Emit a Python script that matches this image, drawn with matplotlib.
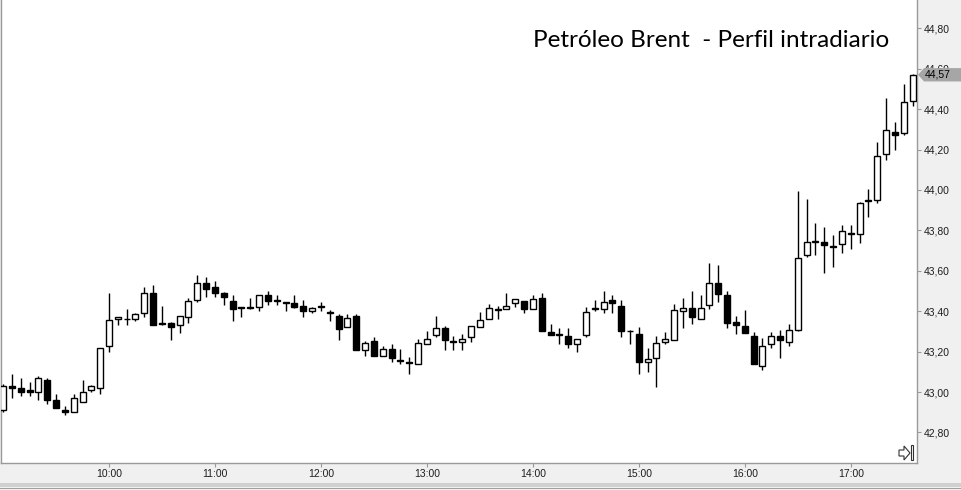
import matplotlib
matplotlib.use("Agg")
import matplotlib.pyplot as plt
import matplotlib.transforms as mtransforms
from matplotlib.patches import Rectangle, Polygon
import numpy as np
import pandas as pd

# 5-minute candles, Brent intraday
start_time = "09:00"
n_candles = 104
opens = [42.91, 43.03, 43.02, 43.01, 43.00, 43.06, 42.96, 42.91, 42.90, 42.95,
         43.01, 43.02, 43.23, 43.36, 43.36, 43.36, 43.39, 43.49, 43.34, 43.34,
         43.33, 43.37, 43.455, 43.54, 43.52, 43.49, 43.45, 43.42, 43.415, 43.42,
         43.48, 43.45, 43.44, 43.44, 43.425, 43.40, 43.425, 43.39, 43.375, 43.32,
         43.375, 43.21, 43.255, 43.18, 43.215, 43.16, 43.15, 43.14, 43.24, 43.28,
         43.315, 43.255, 43.25, 43.27, 43.32, 43.36, 43.405, 43.41, 43.44, 43.45,
         43.41, 43.465, 43.295, 43.285, 43.275, 43.24, 43.28, 43.41, 43.41, 43.455,
         43.425, 43.30, 43.285, 43.15, 43.17, 43.25, 43.26, 43.40, 43.415, 43.36,
         43.43, 43.54, 43.48, 43.345, 43.325, 43.277, 43.13, 43.24, 43.277, 43.25,
         43.305, 43.68, 43.745, 43.745, 43.725, 43.733, 43.785, 43.782, 43.945, 43.95,
         44.18, 44.286, 44.28, 44.44]
highs = [43.04, 43.09, 43.07, 43.05, 43.08, 43.07, 42.99, 42.93, 42.99, 43.06,
         43.035, 43.22, 43.49, 43.37, 43.41, 43.39, 43.52, 43.53, 43.425, 43.345,
         43.375, 43.465, 43.58, 43.57, 43.55, 43.495, 43.48, 43.42, 43.465, 43.48,
         43.50, 43.48, 43.445, 43.48, 43.455, 43.42, 43.444, 43.405, 43.385, 43.385,
         43.385, 43.255, 43.27, 43.227, 43.24, 43.215, 43.175, 43.265, 43.30, 43.375,
         43.327, 43.277, 43.287, 43.327, 43.395, 43.435, 43.426, 43.49, 43.46, 43.45,
         43.48, 43.49, 43.335, 43.315, 43.315, 43.265, 43.42, 43.455, 43.50, 43.48,
         43.455, 43.307, 43.32, 43.216, 43.277, 43.297, 43.435, 43.467, 43.50, 43.48,
         43.64, 43.63, 43.50, 43.376, 43.405, 43.297, 43.267, 43.297, 43.307, 43.337,
         43.995, 43.955, 43.837, 43.817, 43.777, 43.827, 43.827, 43.942, 44.005, 44.238,
         44.455, 44.337, 44.525, 44.574]
lows = [42.90, 42.97, 42.98, 42.98, 42.96, 42.94, 42.92, 42.885, 42.90, 42.95,
        43.00, 42.99, 43.20, 43.33, 43.33, 43.35, 43.37, 43.33, 43.33, 43.26,
        43.29, 43.34, 43.445, 43.47, 43.47, 43.43, 43.35, 43.37, 43.41, 43.40,
        43.43, 43.43, 43.40, 43.415, 43.37, 43.39, 43.40, 43.35, 43.26, 43.32,
        43.21, 43.18, 43.18, 43.18, 43.15, 43.14, 43.09, 43.14, 43.24, 43.27,
        43.21, 43.21, 43.21, 43.25, 43.32, 43.36, 43.36, 43.41, 43.42, 43.39,
        43.41, 43.30, 43.28, 43.24, 43.22, 43.20, 43.27, 43.40, 43.39, 43.39,
        43.27, 43.24, 43.09, 43.10, 43.025, 43.24, 43.26, 43.318, 43.338, 43.36,
        43.41, 43.447, 43.318, 43.287, 43.29, 43.14, 43.11, 43.22, 43.17, 43.23,
        43.30, 43.67, 43.68, 43.59, 43.62, 43.69, 43.71, 43.74, 43.868, 43.937,
        44.15, 44.20, 44.27, 44.417]
closes = [43.03, 43.02, 43.00, 43.00, 43.07, 42.96, 42.92, 42.90, 42.97, 43.00,
          43.03, 43.22, 43.355, 43.37, 43.36, 43.385, 43.49, 43.33, 43.335, 43.32,
          43.375, 43.45, 43.54, 43.51, 43.49, 43.47, 43.41, 43.415, 43.42, 43.48,
          43.45, 43.45, 43.44, 43.42, 43.40, 43.415, 43.42, 43.39, 43.31, 43.365,
          43.21, 43.245, 43.18, 43.215, 43.17, 43.155, 43.145, 43.245, 43.265, 43.315,
          43.26, 43.25, 43.265, 43.327, 43.355, 43.415, 43.405, 43.425, 43.46, 43.41,
          43.46, 43.30, 43.28, 43.28, 43.24, 43.265, 43.395, 43.41, 43.445, 43.44,
          43.30, 43.30, 43.15, 43.165, 43.245, 43.265, 43.405, 43.415, 43.37, 43.415,
          43.54, 43.485, 43.34, 43.33, 43.29, 43.14, 43.227, 43.277, 43.26, 43.305,
          43.665, 43.745, 43.745, 43.73, 43.72, 43.795, 43.78, 43.934, 43.95, 44.167,
          44.296, 44.27, 44.434, 44.57]
yticks = [42.8, 43.0, 43.2, 43.4, 43.6, 43.8, 44.0, 44.2, 44.4, 44.6, 44.8]
xtick_hours = ["10:00", "11:00", "12:00", "13:00", "14:00", "15:00", "16:00", "17:00"]
title = "Petróleo Brent  - Perfil intradiario"

df = pd.DataFrame({"open": opens, "high": highs, "low": lows, "close": closes},
                  index=pd.date_range("2016-01-01 " + start_time, periods=n_candles, freq="5min"))
x = np.arange(len(df))
up = df["close"] >= df["open"]

fig = plt.figure(figsize=(9.61, 4.90), dpi=100, facecolor="#f0f0f0")
ax = fig.add_axes([1 / 961, 27 / 490, 916 / 961, 463 / 490])
ax.set_facecolor("white")

# wicks first, bodies on top
ax.vlines(x, df["low"], df["high"], color="black", linewidth=1.0, zorder=2)
body_bottom = np.minimum(df["open"], df["close"])
body_height = np.maximum(np.abs(df["close"] - df["open"]), 0.004)
ax.bar(x, body_height, bottom=body_bottom, width=0.68,
       color=np.where(up, "white", "black"), edgecolor="black", linewidth=1.0, zorder=3)

ax.set_xlim(-0.23, 103.5)
ax.set_ylim(42.649, 44.94)

# x ticks on the full hours
tick_pos = [x[df.index.strftime("%H:%M") == h][0] for h in xtick_hours]
ax.set_xticks(tick_pos)
ax.set_xticklabels(xtick_hours)
ax.yaxis.tick_right()
ax.set_yticks(yticks)
ax.set_yticklabels([f"{v:.2f}".replace(".", ",") for v in yticks])
ax.tick_params(axis="both", direction="out", length=3, color="#9a9a9a",
               labelsize=7.5, labelcolor="#1e1e1e", pad=1.5)
for lab in ax.get_xticklabels() + ax.get_yticklabels():
    lab.set_family("Liberation Sans")

for side in ["left", "bottom", "right"]:
    ax.spines[side].set_color("#9a9a9a")
    ax.spines[side].set_linewidth(1.0)
ax.spines["top"].set_visible(False)

# last price marker (drawn over the 44,60 label like in the original)
last = closes[-1]
trans = mtransforms.blended_transform_factory(ax.transAxes, ax.transData)
px = 1 / 916
ax.add_patch(Polygon([(1 + 1 * px, last), (1 + 7 * px, last + 0.033), (1 + 45 * px, last + 0.033),
                      (1 + 45 * px, last - 0.033), (1 + 7 * px, last - 0.033)],
                     closed=True, transform=trans, facecolor="#a6a6a6", edgecolor="none",
                     clip_on=False, zorder=5))
ax.text(1 + 8 * px, last, f"{last:.2f}".replace(".", ","), transform=trans, ha="left", va="center",
        fontsize=7.5, family="Liberation Sans", color="black", clip_on=False, zorder=6)

# title
fig.text(889 / 961, 1 - 47 / 490, title, ha="right", va="baseline",
         fontsize=17.5, family="Lato", color="black")

# small scroll icon at bottom right
ident = mtransforms.IdentityTransform()
arrow = [(899, 40), (904, 40), (904, 44), (910, 37), (904, 30), (904, 34), (899, 34)]
fig.patches.append(Polygon(arrow, closed=True, transform=ident, facecolor="white",
                           edgecolor="#333333", linewidth=0.8))
fig.patches.append(Rectangle((911, 30), 2, 15, transform=ident, facecolor="white",
                             edgecolor="#333333", linewidth=0.8))

# bottom frame bands
fig.patches.append(Rectangle((0, 3 / 490), 1, 4 / 490, transform=fig.transFigure,
                             facecolor="#d0d0d0", edgecolor="none"))
fig.patches.append(Rectangle((0, 1 / 490), 1, 1.2 / 490, transform=fig.transFigure,
                             facecolor="#a0a0a0", edgecolor="none"))

fig.savefig("out.png", dpi=100, facecolor=fig.get_facecolor())
